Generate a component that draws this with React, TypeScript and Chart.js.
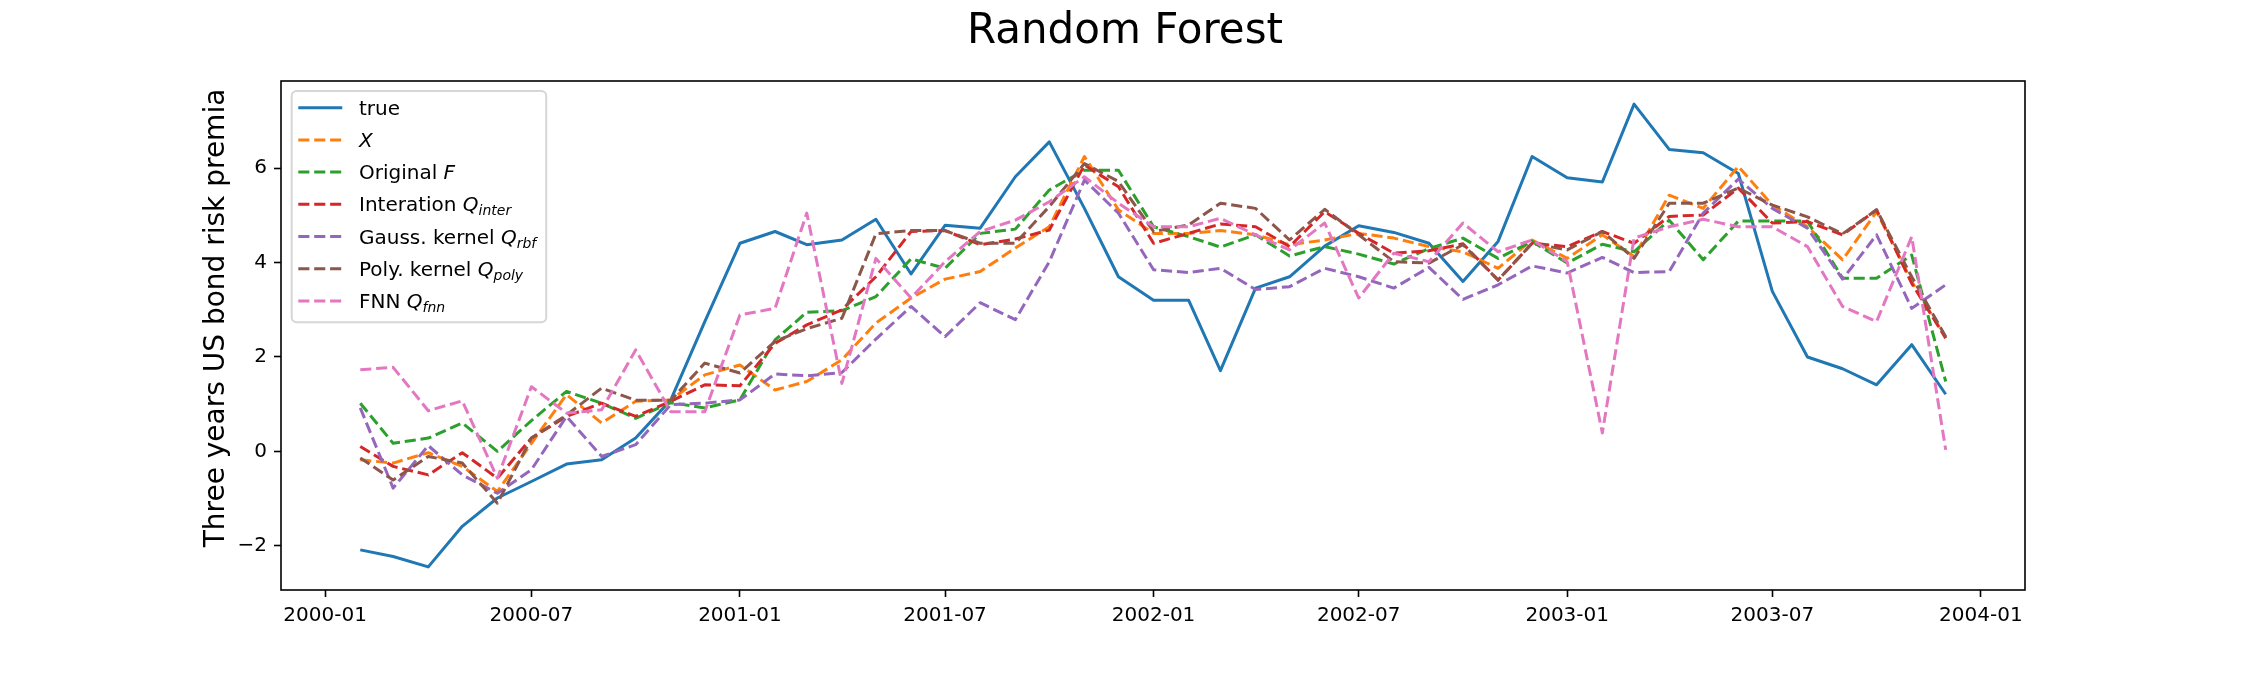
import React, { useEffect, useRef } from "react";
import { Chart, registerables } from "chart.js";

Chart.register(...registerables);

// ---------------- data ----------------
const months = [
  "2000-02", "2000-03", "2000-04", "2000-05", "2000-06", "2000-07", "2000-08", "2000-09", "2000-10", "2000-11", "2000-12",
  "2001-01", "2001-02", "2001-03", "2001-04", "2001-05", "2001-06", "2001-07", "2001-08", "2001-09", "2001-10", "2001-11", "2001-12",
  "2002-01", "2002-02", "2002-03", "2002-04", "2002-05", "2002-06", "2002-07", "2002-08", "2002-09", "2002-10", "2002-11", "2002-12",
  "2003-01", "2003-02", "2003-03", "2003-04", "2003-05", "2003-06", "2003-07", "2003-08", "2003-09", "2003-10", "2003-11", "2003-12",
];

const trueVals = [-2.09, -2.23, -2.45, -1.59, -0.99, -0.64, -0.27, -0.18, 0.28, 1.09, 2.75, 4.41, 4.66, 4.38, 4.48, 4.92, 3.76, 4.79, 4.73, 5.82, 6.56, 5.15, 3.70, 3.20, 3.20, 1.71, 3.46, 3.70, 4.35, 4.78, 4.64, 4.41, 3.60, 4.45, 6.25, 5.80, 5.71, 7.36, 6.40, 6.33, 5.89, 3.39, 2.00, 1.75, 1.41, 2.26, 1.21];
const xVals = [-0.18, -0.25, -0.03, -0.32, -0.85, 0.17, 1.20, 0.60, 1.06, 1.09, 1.62, 1.83, 1.30, 1.48, 1.94, 2.72, 3.25, 3.65, 3.81, 4.31, 4.76, 6.25, 5.12, 4.62, 4.62, 4.68, 4.59, 4.38, 4.48, 4.62, 4.52, 4.34, 4.23, 3.88, 4.48, 4.09, 4.59, 4.13, 5.43, 5.15, 6.04, 5.22, 4.76, 4.06, 5.08, 3.60, 2.40];
const origFVals = [1.02, 0.17, 0.28, 0.60, 0.00, 0.65, 1.27, 1.02, 0.70, 1.03, 0.92, 1.09, 2.36, 2.95, 2.98, 3.28, 4.08, 3.88, 4.62, 4.71, 5.54, 5.96, 5.96, 4.76, 4.55, 4.33, 4.59, 4.14, 4.34, 4.18, 3.97, 4.30, 4.52, 4.09, 4.45, 3.99, 4.39, 4.23, 4.90, 4.06, 4.88, 4.88, 4.88, 3.67, 3.67, 4.16, 1.48];
const qInterVals = [0.10, -0.32, -0.50, -0.03, -0.57, 0.28, 0.74, 1.02, 0.74, 1.06, 1.41, 1.39, 2.29, 2.68, 3.00, 3.70, 4.66, 4.68, 4.38, 4.50, 4.69, 6.07, 5.61, 4.41, 4.62, 4.82, 4.76, 4.34, 5.08, 4.62, 4.20, 4.25, 4.40, 3.63, 4.41, 4.34, 4.66, 4.41, 4.98, 5.01, 5.58, 4.84, 4.87, 4.59, 5.12, 3.56, 2.40];
const qRbfVals = [0.92, -0.78, 0.12, -0.50, -0.89, -0.39, 0.74, -0.11, 0.14, 0.99, 1.02, 1.09, 1.64, 1.60, 1.67, 2.38, 3.07, 2.43, 3.15, 2.79, 4.02, 5.75, 5.05, 3.85, 3.79, 3.88, 3.43, 3.49, 3.88, 3.70, 3.46, 3.90, 3.22, 3.53, 3.93, 3.78, 4.11, 3.79, 3.81, 5.05, 5.77, 5.15, 4.73, 3.65, 4.59, 3.03, 3.53];
const qPolyVals = [-0.14, -0.61, -0.11, -0.25, -1.10, 0.28, 0.77, 1.34, 1.08, 1.08, 1.87, 1.66, 2.33, 2.60, 2.82, 4.61, 4.68, 4.68, 4.41, 4.41, 5.19, 6.10, 5.72, 4.66, 4.80, 5.26, 5.15, 4.48, 5.13, 4.59, 4.02, 3.99, 4.38, 3.63, 4.41, 4.27, 4.66, 4.09, 5.26, 5.26, 5.58, 5.22, 4.97, 4.61, 5.12, 3.70, 2.43];
const qFnnVals = [1.73, 1.78, 0.86, 1.07, -0.57, 1.37, 0.81, 0.88, 2.15, 0.84, 0.84, 2.89, 3.03, 5.05, 1.44, 4.09, 3.25, 4.02, 4.66, 4.90, 5.29, 5.82, 5.26, 4.76, 4.76, 4.94, 4.59, 4.27, 4.84, 3.25, 4.20, 4.02, 4.84, 4.23, 4.48, 4.02, 0.39, 4.52, 4.76, 4.92, 4.76, 4.76, 4.34, 3.07, 2.75, 4.55, 0.03];

const seriesValues = [trueVals, xVals, origFVals, qInterVals, qRbfVals, qPolyVals, qFnnVals];
const seriesLabels = [
  "true",
  "$X$",
  "Original $F$",
  "Interation $Q_{inter}$",
  "Gauss. kernel $Q_{rbf}$",
  "Poly. kernel $Q_{poly}$",
  "FNN $Q_{fnn}$",
];
const seriesColors = ["#1f77b4", "#ff7f0e", "#2ca02c", "#d62728", "#9467bd", "#8c564b", "#e377c2"];

const xTickLabels = ["2000-01", "2000-07", "2001-01", "2001-07", "2002-01", "2002-07", "2003-01", "2003-07", "2004-01"];
const yTicks = [-2, 0, 2, 4, 6];

const titleText = "Random Forest";
const yAxisLabel = "Three years US bond risk premia";

// ---------------- helpers ----------------
const FONT = '"DejaVu Sans", "Noto Sans", sans-serif';
const DASH = [11.1, 4.8];

const toMs = (s: string) => {
  const [y, m] = s.split("-").map(Number);
  return Date.UTC(y, m - 1, 1);
};

type Seg = { text: string; italic: boolean; sub: boolean };
function parseLabel(s: string): Seg[] {
  const segs: Seg[] = [];
  s.split("$").forEach((p, i) => {
    if (!p) return;
    if (i % 2 === 0) segs.push({ text: p, italic: false, sub: false });
    else {
      const m = p.match(/^([^_]*)(?:_\{([^}]*)\})?$/);
      if (m && m[1]) segs.push({ text: m[1], italic: true, sub: false });
      if (m && m[2]) segs.push({ text: m[2], italic: true, sub: true });
    }
  });
  return segs;
}
const plainLabel = (s: string) => s.replace(/\$/g, "").replace(/[{}]/g, "");

const allVals = seriesValues.flat();
const vMin = Math.min(...allVals);
const vMax = Math.max(...allVals);
const yMargin = (vMax - vMin) * 0.05;
const tFirst = toMs(months[0]);
const tLast = toMs(months[months.length - 1]);
const xMargin = (tLast - tFirst) * 0.05;

const decorPlugin = {
  id: "decor",
  afterDraw(chart: any) {
    const { ctx, chartArea: a } = chart;
    ctx.save();
    // axes frame
    ctx.strokeStyle = "#000";
    ctx.lineWidth = 1.6;
    ctx.setLineDash([]);
    ctx.strokeRect(a.left, a.top, a.right - a.left, a.bottom - a.top);

    // y axis label
    ctx.save();
    ctx.translate(a.left - 64, (a.top + a.bottom) / 2 - 17.5);
    ctx.rotate(-Math.PI / 2);
    ctx.font = `28px ${FONT}`;
    ctx.fillStyle = "#000";
    ctx.textAlign = "center";
    ctx.textBaseline = "middle";
    ctx.fillText(yAxisLabel, 0, 0);
    ctx.restore();

    // legend
    const fs = 20;
    const subFs = 14;
    const fontN = `${fs}px ${FONT}`;
    const fontI = `italic ${fs}px ${FONT}`;
    const fontS = `italic ${subFs}px ${FONT}`;
    const left = a.left + 10.7;
    const top = a.top + 10;
    const hx0 = left + 6.6;
    const hx1 = left + 50.6;
    const tx = left + 67.3;
    const rowStep = 32.2;
    const firstRow = 16.7;
    const parsed = chart.data.datasets.map((_: any, i: number) => parseLabel(seriesLabels[i]));
    const segFont = (s: Seg) => (s.sub ? fontS : s.italic ? fontI : fontN);
    let maxW = 0;
    parsed.forEach((segs: Seg[]) => {
      let w = 0;
      segs.forEach((s) => {
        ctx.font = segFont(s);
        w += ctx.measureText(s.text).width;
      });
      maxW = Math.max(maxW, w);
    });
    const boxW = tx - left + maxW + 10;
    const boxH = firstRow + (parsed.length - 1) * rowStep + 21.4;
    ctx.beginPath();
    if (ctx.roundRect) ctx.roundRect(left, top, boxW, boxH, 5);
    else ctx.rect(left, top, boxW, boxH);
    ctx.fillStyle = "rgba(255,255,255,0.8)";
    ctx.fill();
    ctx.strokeStyle = "rgba(204,204,204,0.8)";
    ctx.lineWidth = 2;
    ctx.stroke();

    chart.data.datasets.forEach((ds: any, i: number) => {
      const cy = top + firstRow + i * rowStep;
      ctx.beginPath();
      ctx.strokeStyle = ds.borderColor;
      ctx.lineWidth = 3;
      ctx.lineCap = "butt";
      ctx.setLineDash(ds.borderDash || []);
      ctx.moveTo(hx0, cy);
      ctx.lineTo(hx1, cy);
      ctx.stroke();
      ctx.setLineDash([]);
      let x = tx;
      const base = cy + 7;
      ctx.fillStyle = "#000";
      ctx.textAlign = "left";
      ctx.textBaseline = "alphabetic";
      parsed[i].forEach((s: Seg) => {
        ctx.font = segFont(s);
        ctx.fillText(s.text, x, s.sub ? base + 4 : base);
        x += ctx.measureText(s.text).width;
      });
    });
    ctx.restore();
  },
};

export default function App() {
  const canvasRef = useRef<HTMLCanvasElement | null>(null);

  useEffect(() => {
    if (!canvasRef.current) return;
    const datasets = seriesValues.map((vals, i) => ({
      label: plainLabel(seriesLabels[i]),
      data: vals.map((v, j) => ({ x: toMs(months[j]), y: v })),
      borderColor: seriesColors[i],
      backgroundColor: seriesColors[i],
      borderWidth: 3,
      borderDash: i === 0 ? [] : DASH,
      borderCapStyle: "butt" as const,
      borderJoinStyle: "round" as const,
      pointRadius: 0,
      pointHoverRadius: 0,
      tension: 0,
      fill: false,
      order: seriesValues.length - 1 - i,
    }));

    const tickFont = { family: FONT, size: 20 };
    const tickGrid = {
      display: true,
      drawOnChartArea: false,
      drawTicks: true,
      tickLength: 7,
      tickWidth: 1.6,
      tickColor: "#000",
      color: "#000",
    };

    const chart = new Chart(canvasRef.current, {
      type: "line",
      data: { datasets },
      plugins: [decorPlugin],
      options: {
        animation: false,
        responsive: false,
        devicePixelRatio: 1,
        layout: { padding: 0 },
        plugins: {
          legend: { display: false },
          tooltip: { enabled: false },
          title: {
            display: true,
            text: titleText,
            color: "#000",
            font: { family: FONT, size: 42, weight: "normal", lineHeight: 1.2 },
            padding: { top: 7, bottom: 23.6 },
          },
        },
        scales: {
          x: {
            type: "linear",
            position: "bottom",
            min: tFirst - xMargin,
            max: tLast + xMargin,
            afterBuildTicks: (s: any) => {
              s.ticks = xTickLabels.map((l) => ({ value: toMs(l) }));
            },
            ticks: {
              callback: (_v: any, i: number) => xTickLabels[i],
              color: "#000",
              font: tickFont,
              padding: 7,
              maxRotation: 0,
              autoSkip: false,
            },
            grid: tickGrid,
            border: { display: false },
            afterFit: (s: any) => {
              s.height = 85;
            },
          },
          y: {
            type: "linear",
            position: "left",
            min: vMin - yMargin,
            max: vMax + yMargin,
            afterBuildTicks: (s: any) => {
              s.ticks = yTicks.map((v) => ({ value: v }));
            },
            ticks: {
              callback: (v: any) => (v < 0 ? "\u2212" : "") + Math.abs(v),
              color: "#000",
              font: tickFont,
              padding: 7,
              autoSkip: false,
            },
            grid: tickGrid,
            border: { display: false },
            afterFit: (s: any) => {
              s.width = 281;
            },
          },
          yRight: {
            type: "linear",
            position: "right",
            display: true,
            grid: { display: false, drawTicks: false },
            ticks: { display: false },
            border: { display: false },
            afterFit: (s: any) => {
              s.width = 225;
            },
          },
        },
      } as any,
    });
    return () => chart.destroy();
  }, []);

  return (
    <div style={{ position: "fixed", left: 0, top: 0, width: 2250, height: 675, background: "#fff" }}>
      <canvas ref={canvasRef} width={2250} height={675} style={{ display: "block", width: 2250, height: 675 }} />
    </div>
  );
}
